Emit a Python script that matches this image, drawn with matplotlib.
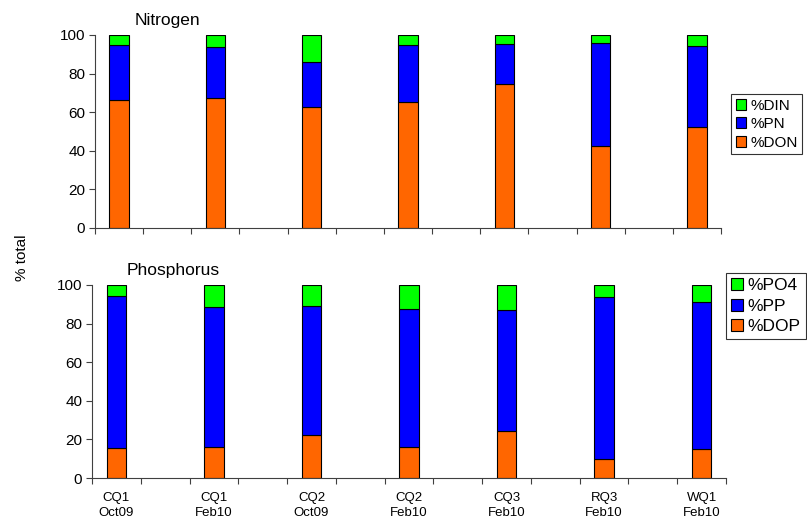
import matplotlib.pyplot as plt
import numpy as np

plt.rcParams['font.family'] = ['Liberation Sans', 'DejaVu Sans']

sites = ['CQ1\nOct09', 'CQ1\nFeb10', 'CQ2\nOct09', 'CQ2\nFeb10', 'CQ3\nFeb10', 'RQ3\nFeb10', 'WQ1\nFeb10']

# nitrogen fractions (% of total)
don = [66.5, 67.4, 62.9, 65.1, 74.4, 42.3, 52.2]
pn = [28.1, 26.2, 23.3, 29.5, 20.9, 53.4, 42.3]
din = [5.4, 6.4, 13.8, 5.4, 4.7, 4.3, 5.5]

# phosphorus fractions (% of total)
dop = [15.7, 16.1, 22.3, 15.9, 24.6, 10.0, 15.2]
pp = [78.8, 72.3, 66.8, 71.5, 62.4, 83.8, 75.8]
po4 = [5.5, 11.6, 10.9, 12.6, 13.0, 6.2, 9.0]

orange = '#FF6600'
blue = '#0000FF'
green = '#00FF00'

fig = plt.figure(figsize=(8.07, 5.21), dpi=100)
W, H = 807, 521
ax1 = fig.add_axes([95 / W, 1 - 228 / H, 626 / W, 193 / H])
ax2 = fig.add_axes([92 / W, 1 - 478 / H, 634 / W, 193 / H])

x = np.arange(len(sites)) * 2  # every other slot is left empty

def stack(ax, parts, colors, names, title, title_x, legend_fs, legend_loc, legend_pos):
    bottom = np.zeros(len(sites))
    handles = []
    for vals, c, n in zip(parts, colors, names):
        b = ax.bar(x, vals, width=0.4, bottom=bottom, color=c, edgecolor='black',
                   linewidth=0.8, label=n)
        handles.append(b)
        bottom += np.array(vals)
    ax.set_xlim(-0.5, 12.5)
    ax.set_ylim(0, 100)
    ax.set_yticks(range(0, 101, 20))
    ax.set_xticks(np.arange(-0.5, 12.6, 1))
    ax.set_xticklabels([])
    ax.tick_params(axis='both', direction='out', length=4, color='#404040',
                   labelsize=11, pad=3)
    for s in ['top', 'right']:
        ax.spines[s].set_visible(False)
    for s in ['left', 'bottom']:
        ax.spines[s].set_color('#404040')
    ax.text(title_x, 1.035, title, transform=ax.transAxes, fontsize=12.5, ha='left', va='bottom')
    leg = fig.legend(handles[::-1], names[::-1], loc=legend_loc, bbox_to_anchor=legend_pos,
                     fontsize=legend_fs, frameon=True, fancybox=False, edgecolor='black',
                     handlelength=0.7, handleheight=0.7, handletextpad=0.25,
                     borderpad=0.3, labelspacing=0.3, borderaxespad=0)
    leg.get_frame().set_linewidth(0.8)

stack(ax1, [don, pn, din], [orange, blue, green], ['%DON', '%PN', '%DIN'],
      'Nitrogen', 40 / 626, 11, 'upper left', (731 / W, 1 - 94 / H))
stack(ax2, [dop, pp, po4], [orange, blue, green], ['%DOP', '%PP', '%PO4'],
      'Phosphorus', 35 / 634, 12.5, 'upper right', (805.5 / W, 1 - 273 / H))

ax2.set_xticks(x, minor=True)
ax2.set_xticklabels(sites, minor=True, fontsize=9.5, linespacing=1.35)
ax2.tick_params(axis='x', which='minor', length=0, pad=10)

fig.text(22 / W, 1 - 258 / H, '% total', rotation=90, fontsize=11, ha='center', va='center')

plt.savefig('out.png', dpi=100)
